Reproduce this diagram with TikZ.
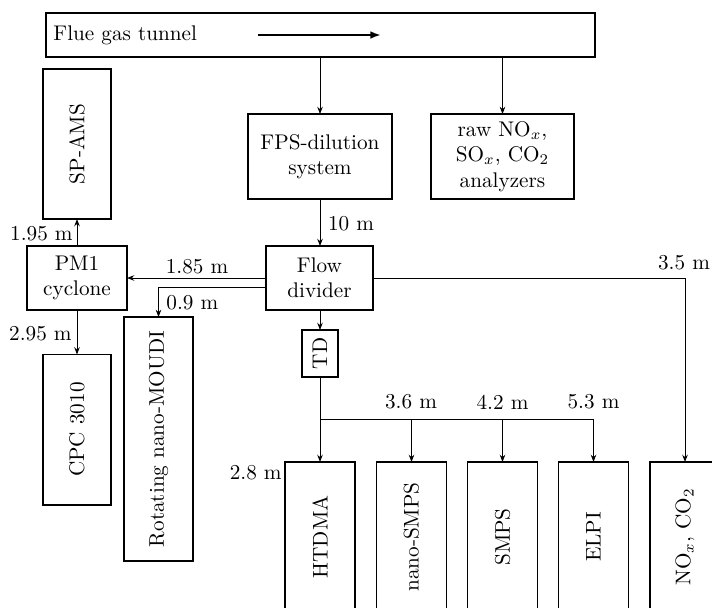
\documentclass[tikz,border=0pt]{standalone}
\usepackage{graphicx}
\usetikzlibrary{arrows.meta}
\begin{document}
\begin{tikzpicture}[x=0.4717pt,y=-0.4717pt,
  box/.style={draw, line width=0.9pt, inner sep=0pt, outer sep=0pt, align=center},
  tall/.style={box, minimum width=32.5pt, minimum height=70.8pt},
  arr/.style={-{Stealth[length=3.4pt,width=2.6pt]}, line width=0.4pt},
  lbl/.style={inner sep=0pt}]
\clip (0,0) rectangle (712,607);
\useasboundingbox (0,0) rectangle (712,607);

% tunnel
\node[box, minimum width=259pt, minimum height=20.8pt] (tunnel) at (320.5,35) {};
\node[lbl, anchor=west] (tlabel) at (53,35) {Flue gas tunnel};
\coordinate (fa) at (258,35);
\coordinate (fb) at (381,35);
\draw[-{Latex[length=5pt,width=3.6pt]}, line width=0.9pt] (fa) -- (fb);

% second row
\node[box, minimum width=67.9pt, minimum height=40.1pt] (fps) at (320,156.5) {FPS-dilution\\system};
\node[box, minimum width=67.5pt, minimum height=40.1pt] (raw) at (502.5,156.5) {raw NO$_x$,\\SO$_x$, CO$_2$\\analyzers};

% middle
\node[box, minimum width=50.5pt, minimum height=30.2pt] (flow) at (319.5,278) {Flow\\divider};
\node[box, minimum width=47.2pt, minimum height=30.2pt] (pm1) at (77,278) {PM1\\cyclone};
\node[tall] (spams) at (77,144) {\rotatebox{90}{SP-AMS}};
\node[tall] (cpc) at (77,429.5) {\rotatebox{90}{CPC 3010}};
\node[box, minimum width=32.5pt, minimum height=115.1pt] (moudi) at (158.5,439) {\rotatebox{90}{Rotating nano-MOUDI}};
\node[box, minimum width=17pt, minimum height=22.2pt] (td) at (320,353.5) {\rotatebox{90}{TD}};

% bottom row
\node[tall, minimum width=33pt] (htdma) at (320,537) {\rotatebox{90}{HTDMA}};
\node[tall, minimum width=33pt] (nano) at (411.5,537) {\rotatebox{90}{nano-SMPS}};
\node[tall, minimum width=33pt] (smps) at (502.5,537) {\rotatebox{90}{SMPS}};
\node[tall, minimum width=33pt] (elpi) at (593.5,537) {\rotatebox{90}{ELPI}};
\node[tall, minimum width=33pt] (nox) at (685,537) {\rotatebox{90}{NO$_x$, CO$_2$}};

% connectors
\draw[arr] (tunnel.south -| fps.north) -- (fps.north);
\draw[arr] (tunnel.south -| raw.north) -- (raw.north);
\draw[arr] (fps.south) -- (fps.south |- flow.north);
\draw[arr] (flow.west) -- (pm1.east);
\coordinate (mo) at (266,287);
\draw[arr] (mo) -| (moudi.north);
\draw[arr] (pm1.north) -- (spams.south);
\draw[arr] (pm1.south) -- (cpc.north);
\draw[arr] (flow.east) -| (nox.north);
\draw[arr] (flow.south -| td.north) -- (td.north);
\draw[arr] (td.south) -- (htdma.north);
\coordinate (br) at (320,419);
\draw[arr] (br) -| (elpi.north);
\draw[arr] (br -| nano.north) -- (nano.north);
\draw[arr] (br -| smps.north) -- (smps.north);

% labels
\node[lbl] (l10) at (351,224) {10 m};
\node[lbl] (l185) at (197,267) {1.85 m};
\node[lbl, anchor=west] (l09) at (166,303) {0.9 m};
\node[lbl, anchor=east] (l195) at (73,234) {1.95 m};
\node[lbl, anchor=east] (l295) at (72,334) {2.95 m};
\node[lbl] (l35) at (684,263) {3.5 m};
\node[lbl] (l36) at (411,402) {3.6 m};
\node[lbl] (l42) at (502.5,402) {4.2 m};
\node[lbl] (l53) at (593.5,402) {5.3 m};
\node[lbl, anchor=east] (l28) at (282,473) {2.8 m};
\end{tikzpicture}
\end{document}
